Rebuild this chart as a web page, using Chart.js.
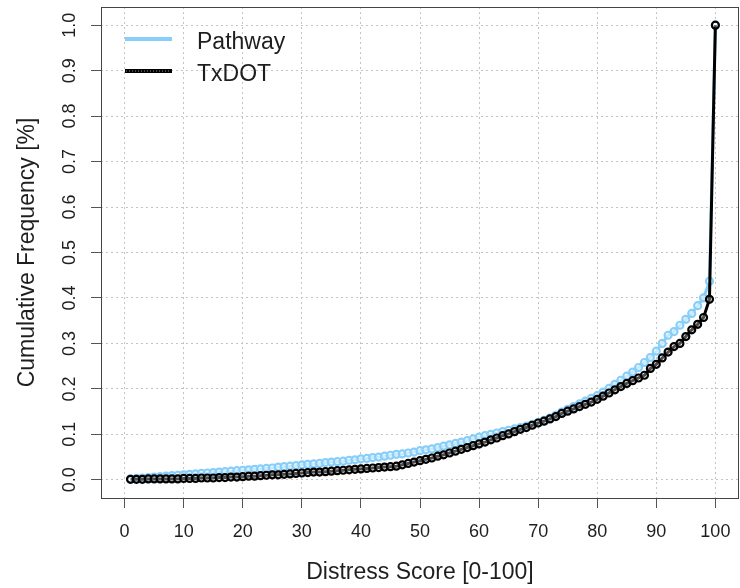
<!DOCTYPE html>
<html>
<head>
<meta charset="utf-8">
<script src="https://cdn.jsdelivr.net/npm/chart.js@4/dist/chart.umd.min.js"></script>
<style>
  body { margin: 0; background: #fff; }
  #wrap { width: 740px; height: 588px; }
</style>
</head>
<body>
<div id="wrap"><canvas id="cdf"></canvas></div>
<script>
// distress scores 1..100
const scores = [
  1, 2, 3, 4, 5, 6, 7, 8, 9, 10, 11, 12, 13, 14, 15, 16, 17, 18, 19, 20,
  21, 22, 23, 24, 25, 26, 27, 28, 29, 30, 31, 32, 33, 34, 35, 36, 37, 38, 39, 40,
  41, 42, 43, 44, 45, 46, 47, 48, 49, 50, 51, 52, 53, 54, 55, 56, 57, 58, 59, 60,
  61, 62, 63, 64, 65, 66, 67, 68, 69, 70, 71, 72, 73, 74, 75, 76, 77, 78, 79, 80,
  81, 82, 83, 84, 85, 86, 87, 88, 89, 90, 91, 92, 93, 94, 95, 96, 97, 98, 99, 100
];
const pathway = [
  0.002, 0.003, 0.004, 0.005, 0.006, 0.007, 0.008, 0.009, 0.010, 0.011,
  0.012, 0.013, 0.014, 0.015, 0.016, 0.017, 0.018, 0.019, 0.020, 0.021,
  0.022, 0.023, 0.024, 0.025, 0.026, 0.028, 0.029, 0.030, 0.031, 0.033,
  0.034, 0.035, 0.036, 0.038, 0.039, 0.040, 0.041, 0.043, 0.044, 0.046,
  0.047, 0.049, 0.050, 0.052, 0.054, 0.056, 0.057, 0.059, 0.061, 0.064,
  0.066, 0.068, 0.071, 0.074, 0.077, 0.080, 0.083, 0.086, 0.090, 0.094,
  0.097, 0.100, 0.103, 0.106, 0.109, 0.112, 0.115, 0.118, 0.122, 0.126,
  0.131, 0.136, 0.142, 0.149, 0.155, 0.161, 0.167, 0.173, 0.179, 0.185,
  0.193, 0.201, 0.210, 0.219, 0.228, 0.237, 0.247, 0.258, 0.269, 0.283,
  0.300, 0.318, 0.326, 0.340, 0.353, 0.366, 0.383, 0.400, 0.437, 1.000
];
const txdot = [
  0.001, 0.001, 0.001, 0.002, 0.002, 0.002, 0.002, 0.002, 0.002, 0.003,
  0.003, 0.003, 0.004, 0.004, 0.004, 0.005, 0.005, 0.006, 0.006, 0.007,
  0.008, 0.008, 0.009, 0.010, 0.011, 0.011, 0.012, 0.013, 0.014, 0.015,
  0.016, 0.017, 0.017, 0.018, 0.019, 0.020, 0.021, 0.022, 0.023, 0.024,
  0.025, 0.026, 0.027, 0.028, 0.029, 0.030, 0.033, 0.036, 0.039, 0.042,
  0.045, 0.048, 0.052, 0.055, 0.059, 0.063, 0.067, 0.071, 0.075, 0.079,
  0.083, 0.088, 0.092, 0.097, 0.101, 0.106, 0.111, 0.115, 0.120, 0.125,
  0.129, 0.134, 0.139, 0.146, 0.151, 0.156, 0.161, 0.166, 0.171, 0.177,
  0.184, 0.191, 0.198, 0.205, 0.212, 0.218, 0.224, 0.230, 0.245, 0.254,
  0.268, 0.281, 0.293, 0.300, 0.315, 0.330, 0.342, 0.357, 0.397, 1.000
];
const seriesNames = ['Pathway', 'TxDOT'];
const seriesColors = ['#87CEFA', '#000000'];
const xTicks = [0, 10, 20, 30, 40, 50, 60, 70, 80, 90, 100];
const yTicks = [0, 0.1, 0.2, 0.3, 0.4, 0.5, 0.6, 0.7, 0.8, 0.9, 1.0];

const FONT = "'Liberation Sans', Arial, sans-serif";
const TXT = '#1e1e1e';

const toPoints = ys => scores.map((x, i) => ({ x: x, y: ys[i] }));

// R-style box around the plot region + legend in the top left
const boxAndLegend = {
  id: 'boxAndLegend',
  afterDraw(chart) {
    const { ctx, chartArea: a } = chart;
    ctx.save();
    ctx.strokeStyle = '#444';
    ctx.lineWidth = 1;
    ctx.strokeRect(Math.round(a.left) + 0.5, Math.round(a.top) + 0.5,
      Math.round(a.right - a.left) - 1, Math.round(a.bottom - a.top));

    const rows = [39, 71];
    ctx.lineCap = 'butt';
    seriesNames.forEach((name, i) => {
      const y = rows[i];
      ctx.beginPath();
      ctx.strokeStyle = seriesColors[i];
      ctx.lineWidth = 4;
      ctx.moveTo(125, y); ctx.lineTo(172, y);
      ctx.stroke();
      if (i === 1) {
        ctx.beginPath();
        ctx.strokeStyle = '#8a8a8a';
        ctx.lineWidth = 1;
        ctx.setLineDash([1, 2]);
        ctx.moveTo(126, y); ctx.lineTo(171, y);
        ctx.stroke();
        ctx.setLineDash([]);
      }
      ctx.fillStyle = TXT;
      ctx.font = '23px ' + FONT;
      ctx.textBaseline = 'alphabetic';
      ctx.textAlign = 'left';
      ctx.fillText(name, 197, y + 9.5);
    });
    ctx.restore();
  }
};

new Chart(document.getElementById('cdf'), {
  type: 'line',
  data: {
    datasets: [
      {
        label: seriesNames[0],
        data: toPoints(pathway),
        borderColor: seriesColors[0],
        backgroundColor: seriesColors[0],
        borderWidth: 3,
        pointRadius: 3.5,
        pointBorderWidth: 2.2,
        pointBorderColor: seriesColors[0],
        pointBackgroundColor: 'rgba(255,255,255,0.55)',
        tension: 0,
        order: 2
      },
      {
        label: seriesNames[1],
        data: toPoints(txdot),
        borderColor: seriesColors[1],
        backgroundColor: seriesColors[1],
        borderWidth: 3,
        pointRadius: 3.5,
        pointBorderWidth: 2.2,
        pointBorderColor: seriesColors[1],
        pointBackgroundColor: 'rgba(255,255,255,0.3)',
        tension: 0,
        order: 1
      }
    ]
  },
  options: {
    responsive: true,
    maintainAspectRatio: false,
    animation: false,
    layout: { autoPadding: false, padding: { top: 7, right: 1, left: 0, bottom: 0 } },
    plugins: {
      legend: { display: false },
      tooltip: { enabled: false }
    },
    scales: {
      x: {
        type: 'linear',
        min: -4,
        max: 104,
        afterBuildTicks: s => { s.ticks = xTicks.map(v => ({ value: v })); },
        afterFit: s => { s.height = 90; s.paddingLeft = 0; s.paddingRight = 0; },
        grid: { color: '#c4c4c4', lineWidth: 1, tickLength: 10, tickColor: '#555' },
        border: { display: false, dash: [2, 3] },
        ticks: {
          padding: 13,
          color: TXT,
          font: { family: FONT, size: 18 },
          maxRotation: 0,
          autoSkip: false,
          callback: v => String(v)
        },
        title: {
          display: true,
          text: 'Distress Score [0-100]',
          color: TXT,
          font: { family: FONT, size: 23 },
          padding: { top: 0, bottom: 2 }
        }
      },
      y: {
        type: 'linear',
        min: -0.04,
        max: 1.04,
        afterBuildTicks: s => { s.ticks = yTicks.map(v => ({ value: v })); },
        afterFit: s => { s.width = 101; s.paddingTop = 0; s.paddingBottom = 0; },
        grid: { color: '#c4c4c4', lineWidth: 1, tickLength: 10, tickColor: '#555' },
        border: { display: false, dash: [2, 3] },
        ticks: {
          padding: 8,
          color: TXT,
          font: { family: FONT, size: 18 },
          minRotation: 90,
          maxRotation: 90,
          crossAlign: 'center',
          autoSkip: false,
          callback: v => v.toFixed(1)
        },
        title: {
          display: true,
          text: 'Cumulative Frequency [%]',
          color: TXT,
          font: { family: FONT, size: 23 },
          padding: { top: 14, bottom: 0 }
        }
      }
    }
  },
  plugins: [boxAndLegend]
});
</script>
</body>
</html>
